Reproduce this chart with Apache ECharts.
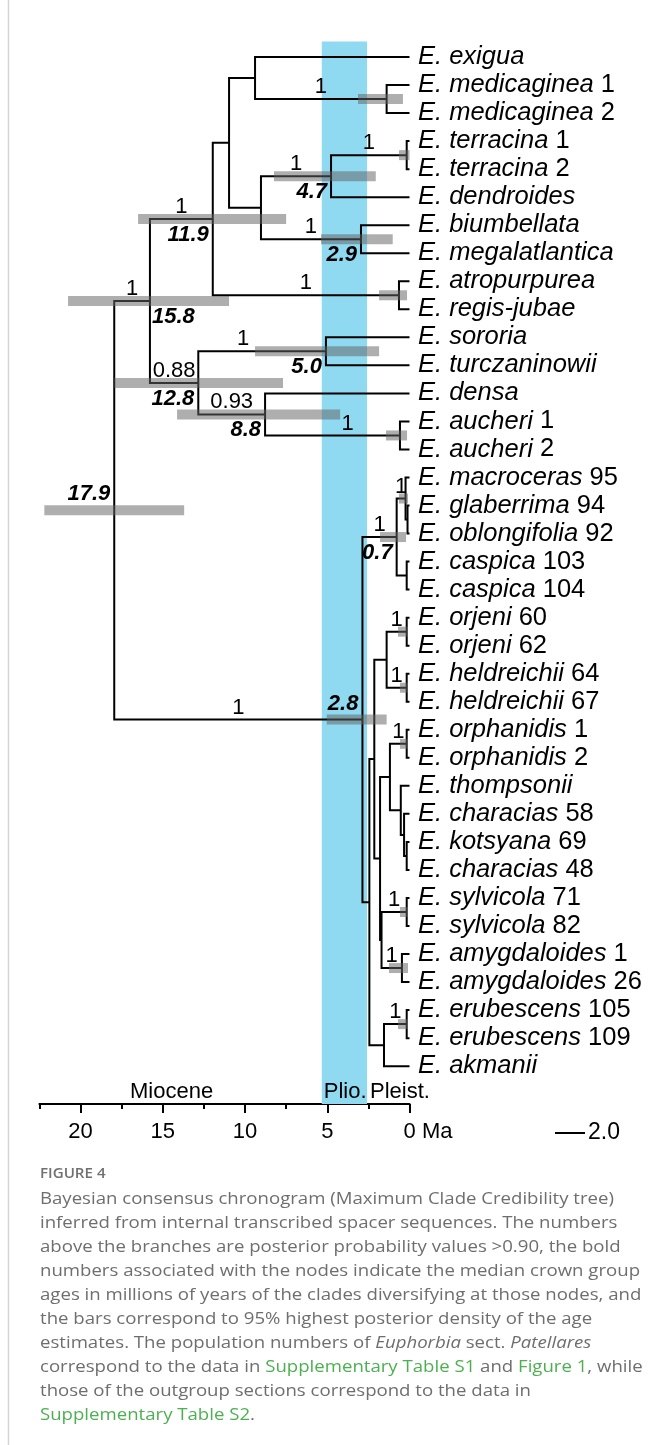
<!DOCTYPE html>
<html><head><meta charset="utf-8">
<script src="https://cdn.jsdelivr.net/npm/echarts@6/dist/echarts.min.js"></script>
<style>html,body{margin:0;padding:0;background:#fff}#c{width:664px;height:1445px}</style>
</head><body><div id="c"></div>
<script>
// ---------------- DATA ----------------
const tipLabels = ['E. exigua','E. medicaginea 1','E. medicaginea 2','E. terracina 1','E. terracina 2','E. dendroides','E. biumbellata','E. megalatlantica','E. atropurpurea','E. regis-jubae','E. sororia','E. turczaninowii','E. densa','E. aucheri 1','E. aucheri 2','E. macroceras 95','E. glaberrima 94','E. oblongifolia 92','E. caspica 103','E. caspica 104','E. orjeni 60','E. orjeni 62','E. heldreichii 64','E. heldreichii 67','E. orphanidis 1','E. orphanidis 2','E. thompsonii','E. characias 58','E. kotsyana 69','E. characias 48','E. sylvicola 71','E. sylvicola 82','E. amygdaloides 1','E. amygdaloides 26','E. erubescens 105','E. erubescens 109','E. akmanii'];
const nodeIds = ['med','exmed','terr','n47','n29','n9','n11','atro','n119','so','auch','n88','n128','n158','nB','nA','casp','n07','orj','held','nD','orph','nM','nL','nK','nJ','syl','amy','nI','nH','nC','eru','nG','nF','n28','root'];
const nodeChildren = [[1,2],[0,'med'],[3,4],['terr',5],[6,7],['n47','n29'],['exmed','n9'],[8,9],['n11','atro'],[10,11],[13,14],[12,'auch'],['so','n88'],['n119','n128'],[16,17],[15,'nB'],[18,19],['nA','casp'],[20,21],[22,23],['orj','held'],[24,25],[28,29],[27,'nM'],[26,'nL'],['orph','nK'],[30,31],[32,33],['syl','amy'],['nJ','nI'],['nD','nH'],[34,35],['eru',36],['nC','nG'],['n07','nF'],['n158','n28']];
const nodeAges = [1.39,9.39,0.17,4.77,2.95,9.03,10.97,0.64,11.96,5.08,0.58,8.78,12.84,15.78,0.12,0.24,0.17,0.78,0.17,0.17,1.39,0.17,0.17,0.33,0.53,1.19,0.17,0.46,1.70,1.79,2.14,0.17,1.55,2.44,2.86,17.95];
const nodeSupport = ['1','','1','1','1','','','1','1','1','1','0.93','0.88','1','','1','','1','1','1','','1','','','','','1','1','','','','1','','','1',''];
const hpdLow  = [0.40,null,0,2.05,1.02,null,null,0.15,7.5,1.85,0.15,4.22,7.69,10.97,null,0.09,null,0.21,0.09,0.09,null,0.09,null,null,null,null,0.09,0.09,null,null,null,0.09,null,null,1.39,13.7];
const hpdHigh = [3.13,null,0.64,8.24,5.38,null,null,1.85,16.5,9.39,1.43,14.13,17.95,20.76,null,0.64,null,1.79,0.70,0.58,null,0.58,null,null,null,null,0.58,1.25,null,null,null,0.70,null,null,5.03,22.2];
const ageLabels = ['','','','4.7','2.9','','','','11.9','5.0','','8.8','12.8','15.8','','','','0.7','','','','','','','','','','','','','','','','','2.8','17.9'];
const epochNames = ['Miocene','Plio.','Pleist.'];
const epochStart = [23.03, 5.333, 2.58];
const majorTicks = [0,5,10,15,20];
const minorTicks = [2.5,7.5,12.5,17.5,22.5];
const captionLines = ['Bayesian consensus chronogram (Maximum Clade Credibility tree)',
  'inferred from internal transcribed spacer sequences. The numbers',
  'above the branches are posterior probability values >0.90, the bold',
  'numbers associated with the nodes indicate the median crown group',
  'ages in millions of years of the clades diversifying at those nodes, and',
  'the bars correspond to 95% highest posterior density of the age',
  'estimates. The population numbers of {it|Euphorbia} sect. {it|Patellares}',
  'correspond to the data in {g|Supplementary Table S1} and {g|Figure 1}, while',
  'those of the outgroup sections correspond to the data in',
  '{g|Supplementary Table S2}.'];

// ---------------- LAYOUT ----------------
const F = '"Liberation Sans", Arial, Helvetica, sans-serif';
const CF = '"Open Sans", sans-serif';
const AGE_LABEL_MODE = {n158:'right', n28:'above', root:'above'};
const SUPPORT_NUDGE = {so:-19, auch:15};
const EPOCH_DX = [-9, 2, 3];
const TIP_FS = 25.5;

const idIndex = {}; nodeIds.forEach((id,i)=>idIndex[id]=i);
const nodeY = [];
function yOf(r){ return typeof r==='number' ? r : nodeYOf(idIndex[r]); }
function ageOf(r){ return typeof r==='number' ? 0 : nodeAges[idIndex[r]]; }
function nodeYOf(i){ if(nodeY[i]===undefined){ const c=nodeChildren[i]; nodeY[i]=(yOf(c[0])+yOf(c[1]))/2; } return nodeY[i]; }
const parentAge = {};
nodeChildren.forEach((c,i)=>c.forEach(r=>{ if(typeof r==='string') parentAge[r]=nodeAges[i]; }));

const branchData = nodeIds.map((id,i)=>{ const c=nodeChildren[i]; return [nodeAges[i], nodeYOf(i), ageOf(c[0]), yOf(c[0]), ageOf(c[1]), yOf(c[1])]; });
const barData = []; nodeIds.forEach((id,i)=>{ if(hpdLow[i]!==null) barData.push([hpdLow[i], hpdHigh[i], nodeYOf(i)]); });
const supportData = []; nodeIds.forEach((id,i)=>{ if(nodeSupport[i]) supportData.push([nodeAges[i], nodeYOf(i), parentAge[id], i]); });
const ageData = []; nodeIds.forEach((id,i)=>{ if(ageLabels[i]) ageData.push([nodeAges[i], nodeYOf(i), i]); });
const tipData = tipLabels.map((t,i)=>[0,i]);

const chart = echarts.init(document.getElementById('c'), null, {renderer:'canvas'});
const LINE = {stroke:'#000', lineWidth:2};

const option = {
  animation:false,
  backgroundColor:'#fff',
  grid:{left:39.4, right:254.5, top:41.6, bottom:341},
  xAxis:[
    {type:'value', min:0, max:22.5, inverse:true, position:'bottom',
     axisLine:{show:true, onZero:false, lineStyle:{color:'#000', width:2}},
     axisTick:{show:true, customValues:majorTicks, length:9, lineStyle:{color:'#000', width:2}},
     axisLabel:{customValues:majorTicks, color:'#000', fontSize:22, fontFamily:F, margin:17,
       formatter:v=> v===0 ? '{p|}0 Ma' : String(v), rich:{p:{width:37}}},
     splitLine:{show:false}},
    {type:'value', min:0, max:22.5, inverse:true, position:'bottom',
     axisLine:{show:false, onZero:false},
     axisTick:{show:true, customValues:minorTicks, length:5, lineStyle:{color:'#000', width:2}},
     axisLabel:{show:false}, splitLine:{show:false}}
  ],
  yAxis:{type:'value', min:-0.55, max:37.35, inverse:true, show:false},
  series:[
    { // Pliocene band
      type:'custom', z:1, data:[[epochStart[1], epochStart[2]]],
      renderItem:(p,api)=>{ const cs=p.coordSys; const a=api.coord([api.value(0),0]); const b=api.coord([api.value(1),0]);
        return {type:'rect', shape:{x:a[0], y:cs.y, width:b[0]-a[0], height:cs.height}, style:{fill:'#8fd9f1'}}; }
    },
    { // epoch labels
      type:'custom', z:5, data:epochNames.map((n,i)=>[i]),
      renderItem:(p,api)=>{ const i=api.value(0); const cs=p.coordSys;
        let x, align='left';
        if(i===0){ const a=api.coord([Math.min(epochStart[0],22.5),0])[0], b=api.coord([epochStart[1],0])[0]; x=(a+b)/2; align='center'; }
        else x=api.coord([epochStart[i],0])[0];
        return {type:'text', x:x+EPOCH_DX[i], y:cs.y+cs.height-12, style:{text:epochNames[i], fill:'#000', fontSize:22, fontFamily:F, align:align, verticalAlign:'middle'}}; }
    },
    { // branches
      type:'custom', z:2, data:branchData,
      renderItem:(p,api)=>{ const n=api.coord([api.value(0),api.value(1)]);
        const c0=api.coord([api.value(2),api.value(3)]), c1=api.coord([api.value(4),api.value(5)]);
        return {type:'polyline', shape:{points:[[c0[0],c0[1]],[n[0],c0[1]],[n[0],c1[1]],[c1[0],c1[1]]]}, style:Object.assign({fill:null, lineJoin:'miter'},LINE)}; }
    },
    { // HPD bars
      type:'custom', z:3, data:barData, encode:{x:[0,1], y:2},
      renderItem:(p,api)=>{ const a=api.coord([api.value(1),api.value(2)]), b=api.coord([api.value(0),api.value(2)]);
        return {type:'rect', shape:{x:a[0], y:a[1]-5, width:b[0]-a[0], height:10}, style:{fill:'rgba(100,100,100,0.52)'}}; }
    },
    { // tip labels
      type:'custom', z:4, data:tipData,
      renderItem:(p,api)=>{ const c=api.coord([0,api.value(1)]); const t=tipLabels[api.value(1)];
        const m=t.match(/^(.*?)(\s\d+)?$/);
        const txt='{i|'+m[1]+'}'+(m[2]?'{n|'+m[2]+'}':'');
        return {type:'text', x:c[0]+8.5, y:c[1], style:{text:txt, fill:'#000', fontSize:TIP_FS, fontFamily:F, align:'left', verticalAlign:'middle',
          rich:{i:{fontStyle:'italic', fontSize:TIP_FS, fontFamily:F, fill:'#000'}, n:{fontStyle:'normal', fontSize:TIP_FS, fontFamily:F, fill:'#000'}}}}; }
    },
    { // support values
      type:'custom', z:4, data:supportData,
      renderItem:(p,api)=>{ const i=api.value(3); const n=api.coord([api.value(0),api.value(1)]); const pa=api.coord([api.value(2),api.value(1)]);
        const x=(n[0]+pa[0])/2+(SUPPORT_NUDGE[nodeIds[i]]||0);
        return {type:'text', x:x, y:n[1]-12, style:{text:nodeSupport[i], fill:'#000', fontSize:22, fontFamily:F, align:'center', verticalAlign:'middle'}}; }
    },
    { // node ages
      type:'custom', z:4, data:ageData,
      renderItem:(p,api)=>{ const i=api.value(2); const n=api.coord([api.value(0),api.value(1)]); const mode=AGE_LABEL_MODE[nodeIds[i]];
        let x=n[0]-4, y=n[1]+16, align='right';
        if(mode==='right'){ x=n[0]+2; align='left'; }
        if(mode==='above'){ y=n[1]-16; }
        return {type:'text', x:x, y:y, style:{text:ageLabels[i], fill:'#000', fontSize:22, fontWeight:'bold', fontStyle:'italic', fontFamily:F, align:align, verticalAlign:'middle'}}; }
    }
  ],
  graphic:[
    {type:'line', shape:{x1:8.5,y1:0,x2:8.5,y2:1445}, style:{stroke:'#d4d4d4', lineWidth:1.5}},
    {type:'line', shape:{x1:555,y1:1133,x2:585,y2:1133}, style:{stroke:'#000', lineWidth:2}},
    {type:'text', x:588, y:1133, style:{text:'2.0', fill:'#000', fontSize:23, fontFamily:F, verticalAlign:'middle'}},
    {type:'text', x:40, y:1174, scaleX:1.08, style:{text:'FIGURE 4', fill:'#707070', fontSize:14, fontWeight:600, fontFamily:CF, verticalAlign:'middle'}},
    {type:'text', x:40, y:1188, scaleX:1.2, style:{
      text:captionLines.join('\n'),
      fill:'#6e6e6e', fontSize:15.5, lineHeight:24, fontFamily:CF, verticalAlign:'top',
      rich:{it:{fontStyle:'italic', fontSize:15.5, lineHeight:24, fontFamily:CF, fill:'#6e6e6e'},
            g:{fontSize:15.5, lineHeight:24, fontFamily:CF, fill:'#4cb050'}}}}
  ]
};
chart.setOption(option);
</script>
</body></html>
